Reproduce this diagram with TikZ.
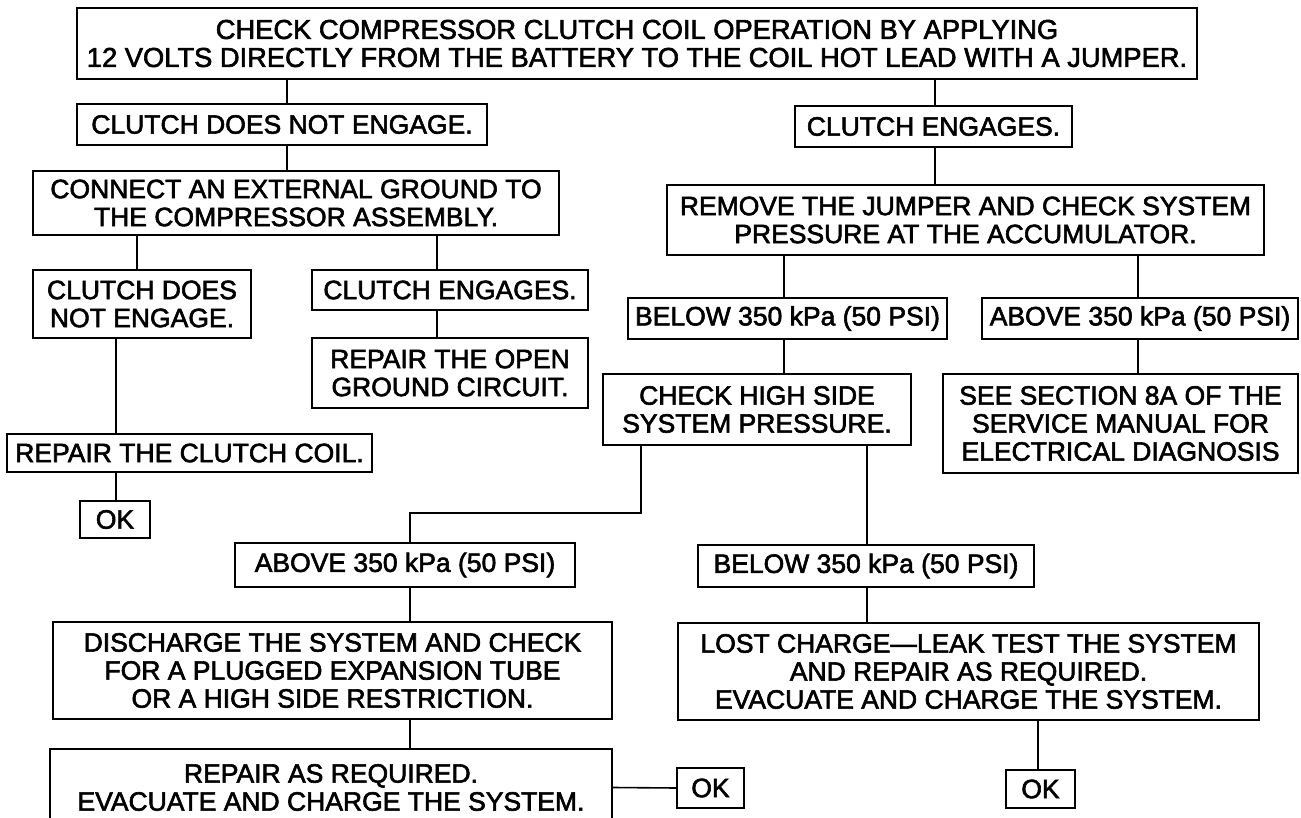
\documentclass[tikz,border=0pt]{standalone}
\usepackage{fontspec}
\newfontfamily\boxfam{Liberation Sans}[FakeBold=2.2]
\begin{document}
\begin{tikzpicture}[x=1pt,y=-1pt,
  box/.style={draw, line width=1.8pt, inner sep=0pt, align=center,
    font=\boxfam\fontsize{26.5}{28}\selectfont},
  bigbox/.style={box, font=\boxfam\fontsize{27.3}{28}\selectfont},
  conn/.style={line width=1.6pt}]
\useasboundingbox[fill=white] (0,0) rectangle (1301,818);
\clip (0,0) rectangle (1301,818);
% boxes
\node[bigbox, minimum width=1120, minimum height=71] (top) at (637,43.5)
  {CHECK COMPRESSOR CLUTCH COIL OPERATION BY APPLYING\\12 VOLTS DIRECTLY FROM THE BATTERY TO THE COIL HOT LEAD WITH A JUMPER.};
\node[box, minimum width=410, minimum height=41] (cdne1) at (282,124.5) {CLUTCH DOES NOT ENGAGE.};
\node[box, minimum width=277, minimum height=41] (ce1) at (933.5,126.5) {CLUTCH ENGAGES.};
\node[box, minimum width=526, minimum height=64] (connect) at (296,203)
  {CONNECT AN EXTERNAL GROUND TO\\THE COMPRESSOR ASSEMBLY.};
\node[box, minimum width=597, minimum height=70] (remove) at (965.5,220)
  {REMOVE THE JUMPER AND CHECK SYSTEM\\PRESSURE AT THE ACCUMULATOR.};
\node[box, minimum width=218, minimum height=68] (cdne2) at (142,304) {CLUTCH DOES\\NOT ENGAGE.};
\node[box, minimum width=276, minimum height=40] (ce2) at (450,290) {CLUTCH ENGAGES.};
\node[box, minimum width=276, minimum height=70] (repopen) at (450,373) {REPAIR THE OPEN\\GROUND CIRCUIT.};
\node[box, minimum width=319, minimum height=41] (below1) at (787.5,318.5) {BELOW 350 kPa (50 PSI)};
\node[box, minimum width=316, minimum height=41] (above1) at (1140,318.5) {ABOVE 350 kPa (50 PSI)};
\node[box, minimum width=308, minimum height=71] (checkhigh) at (757,409.5) {CHECK HIGH SIDE\\SYSTEM PRESSURE.};
\node[box, minimum width=355, minimum height=99] (seesec) at (1120.5,423.5)
  {SEE SECTION 8A OF THE\\SERVICE MANUAL FOR\\ELECTRICAL DIAGNOSIS};
\node[box, minimum width=365, minimum height=38] (repclutch) at (189.5,453) {REPAIR THE CLUTCH COIL.};
\node[box, minimum width=70, minimum height=37] (ok1) at (115,519.5) {OK};
\node[box, minimum width=340, minimum height=44] (above2) at (405,565) {ABOVE 350 kPa (50 PSI)};
\node[box, minimum width=336, minimum height=42] (below2) at (866,566) {BELOW 350 kPa (50 PSI)};
\node[box, minimum width=559, minimum height=97] (discharge) at (332.5,670.5)
  {DISCHARGE THE SYSTEM AND CHECK\\FOR A PLUGGED EXPANSION TUBE\\OR A HIGH SIDE RESTRICTION.};
\node[box, minimum width=581, minimum height=97] (lost) at (968.5,671.5)
  {LOST CHARGE—LEAK TEST THE SYSTEM\\AND REPAIR AS REQUIRED.\\EVACUATE AND CHARGE THE SYSTEM.};
\node[box, minimum width=562, minimum height=77] (repair) at (331,787.5)
  {REPAIR AS REQUIRED.\\EVACUATE AND CHARGE THE SYSTEM.};
\node[box, minimum width=67, minimum height=40] (ok2) at (710.5,788) {OK};
\node[box, minimum width=69, minimum height=38] (ok3) at (1040.5,789) {OK};
% connector columns
\coordinate (xa) at (287,0);
\coordinate (xb) at (935,0);
\coordinate (xc) at (137,0);
\coordinate (xd) at (437,0);
\coordinate (xe) at (784,0);
\coordinate (xf) at (1138,0);
\coordinate (xg) at (116,0);
\coordinate (xh) at (641,0);
\coordinate (xi) at (410,0);
\coordinate (xj) at (867,0);
\coordinate (xk) at (1038,0);
\coordinate (ybend) at (0,513);
% connectors
\draw[conn] (top.south -| xa) -- (cdne1.north -| xa);
\draw[conn] (cdne1.south -| xa) -- (connect.north -| xa);
\draw[conn] (top.south -| xb) -- (ce1.north -| xb);
\draw[conn] (ce1.south -| xb) -- (remove.north -| xb);
\draw[conn] (connect.south -| xc) -- (cdne2.north -| xc);
\draw[conn] (connect.south -| xd) -- (ce2.north -| xd);
\draw[conn] (ce2.south -| xd) -- (repopen.north -| xd);
\draw[conn] (remove.south -| xe) -- (below1.north -| xe);
\draw[conn] (remove.south -| xf) -- (above1.north -| xf);
\draw[conn] (below1.south -| xe) -- (checkhigh.north -| xe);
\draw[conn] (above1.south -| xf) -- (seesec.north -| xf);
\draw[conn] (cdne2.south -| xg) -- (repclutch.north -| xg);
\draw[conn] (repclutch.south -| xg) -- (ok1.north -| xg);
\draw[conn] (checkhigh.south -| xh) -- (xh |- ybend) -- (xi |- ybend) -- (above2.north -| xi);
\draw[conn] (checkhigh.south -| xj) -- (below2.north -| xj);
\draw[conn] (above2.south -| xi) -- (discharge.north -| xi);
\draw[conn] (below2.south -| xj) -- (lost.north -| xj);
\draw[conn] (discharge.south -| xi) -- (repair.north -| xi);
\draw[conn] (repair.east) -- (ok2.west);
\draw[conn] (lost.south -| xk) -- (ok3.north -| xk);
\end{tikzpicture}
\end{document}
